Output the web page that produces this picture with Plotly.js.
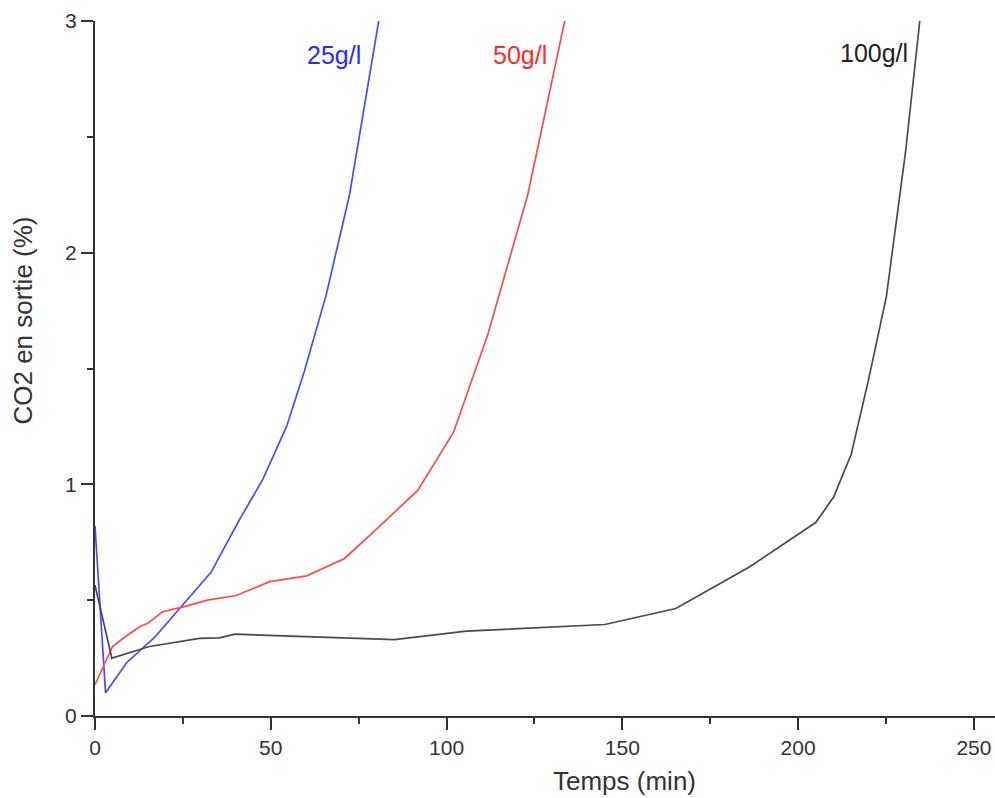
<!DOCTYPE html>
<html>
<head>
<meta charset="utf-8">
<script src="https://cdn.plot.ly/plotly-3.0.1.min.js"></script>
<style>html,body{margin:0;padding:0;background:#fff;}#chart{width:995px;height:798px;}</style>
</head>
<body>
<div id="chart"></div>
<script>
// 25 g/l
const t25 = [0, 3, 9, 17, 25, 33, 41, 47.7, 54.5, 59.6, 65.8, 72.4, 80.7];
const co2_25 = [0.82, 0.10, 0.23, 0.34, 0.48, 0.62, 0.845, 1.02, 1.25, 1.49, 1.82, 2.25, 3.0];
// 50 g/l
const t50 = [0, 5, 8.4, 12.7, 15, 19.2, 24.9, 32, 40.2, 49.7, 60.2, 71, 81, 91.8, 102, 111.8, 123.1, 133.6];
const co2_50 = [0.135, 0.30, 0.34, 0.385, 0.40, 0.45, 0.47, 0.50, 0.52, 0.58, 0.605, 0.68, 0.82, 0.974, 1.225, 1.65, 2.25, 3.0];
// 100 g/l
const t100 = [0, 4.8, 15.5, 29.7, 35.4, 39.7, 85.2, 105.6, 145, 165.2, 186, 205, 210.1, 215.1, 220, 225.1, 230.6, 234.6];
const co2_100 = [0.565, 0.25, 0.30, 0.335, 0.337, 0.353, 0.33, 0.366, 0.395, 0.464, 0.642, 0.835, 0.945, 1.13, 1.45, 1.81, 2.44, 3.0];

const seriesNames = ['25g/l', '50g/l', '100g/l'];
const xTickVals = [0, 50, 100, 150, 200, 250];
const yTickVals = [0, 1, 2, 3];

const font = 'Liberation Sans, Arial, sans-serif';

const traces = [
  {x: t25, y: co2_25, name: seriesNames[0], mode: 'lines', line: {color: '#4a4aff', width: 1.7}},
  {x: t50, y: co2_50, name: seriesNames[1], mode: 'lines', line: {color: '#ff4a4a', width: 1.7}},
  {x: t100, y: co2_100, name: seriesNames[2], mode: 'lines', line: {color: '#4a4a4a', width: 1.7}}
];

const layout = {
  width: 995, height: 798,
  margin: {l: 95, r: 0, t: 21, b: 82},
  paper_bgcolor: '#fff', plot_bgcolor: '#fff',
  showlegend: false,
  font: {family: font, size: 21, color: '#333'},
  xaxis: {
    range: [0, 256], showgrid: false, zeroline: false,
    showline: true, linecolor: '#333', linewidth: 2,
    ticks: 'outside', ticklen: 12, tickwidth: 2, tickcolor: '#333',
    tickvals: xTickVals, ticktext: xTickVals.map(String),
    tickfont: {family: font, size: 21, color: '#333'},
    minor: {ticks: 'outside', ticklen: 6, tickwidth: 2, tickcolor: '#333', dtick: 25, tick0: 0},
    fixedrange: true
  },
  yaxis: {
    range: [0, 3], showgrid: false, zeroline: false,
    showline: true, linecolor: '#333', linewidth: 2,
    ticks: 'outside', ticklen: 12, tickwidth: 2, tickcolor: '#333',
    tickvals: yTickVals, ticktext: yTickVals.map(String),
    tickfont: {family: font, size: 21, color: '#333'},
    minor: {ticks: 'outside', ticklen: 6, tickwidth: 2, tickcolor: '#333', dtick: 0.5, tick0: 0},
    fixedrange: true
  },
  annotations: [
    {xref: 'paper', yref: 'paper', x: 0.588, y: -0.093, text: 'Temps (min)', showarrow: false,
     font: {family: font, size: 26, color: '#333'}, xanchor: 'center', yanchor: 'middle'},
    {xref: 'paper', yref: 'paper', x: -0.08, y: 0.569, text: 'CO2 en sortie (%)', showarrow: false, textangle: -90,
     font: {family: font, size: 26, color: '#333'}, xanchor: 'center', yanchor: 'middle'},
    {x: 67.9, y: 2.853, text: seriesNames[0], showarrow: false, font: {family: font, size: 25, color: '#2a2aff'}},
    {x: 120.8, y: 2.853, text: seriesNames[1], showarrow: false, font: {family: font, size: 25, color: '#ff2a2a'}},
    {x: 221.5, y: 2.862, text: seriesNames[2], showarrow: false, font: {family: font, size: 25, color: '#222'}}
  ]
};

Plotly.newPlot('chart', traces, layout, {displayModeBar: false, staticPlot: true});
</script>
</body>
</html>
